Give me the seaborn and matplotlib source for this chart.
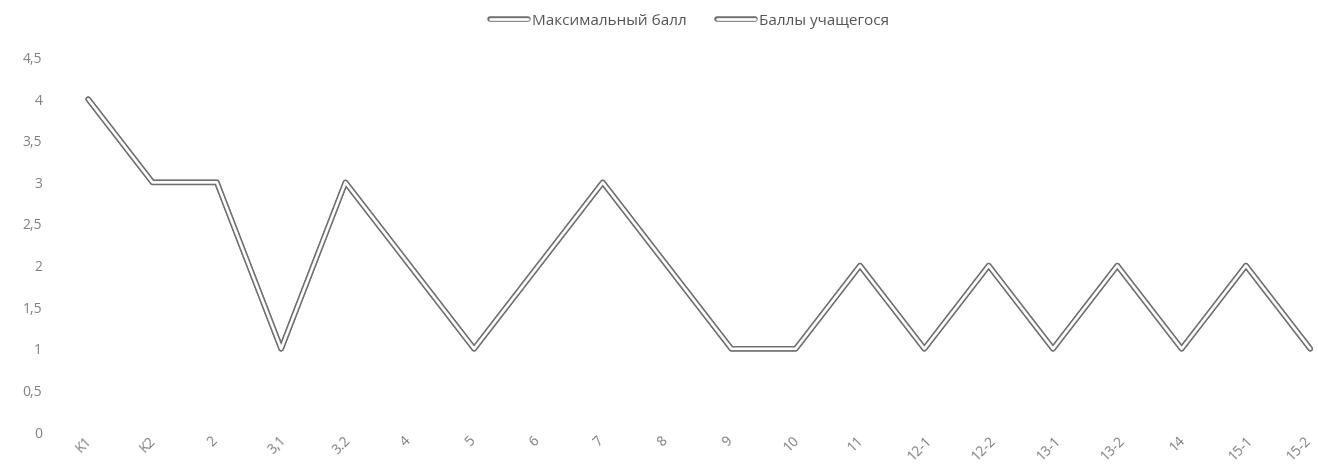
import matplotlib
matplotlib.use("Agg")
import matplotlib.pyplot as plt
import matplotlib.patheffects as pe
import matplotlib.transforms as mtransforms
from matplotlib.ticker import FuncFormatter
import seaborn as sns
import pandas as pd

# data
tasks = ["K1", "K2", "2", "3,1", "3.2", "4", "5", "6", "7", "8",
         "9", "10", "11", "12-1", "12-2", "13-1", "13-2", "14", "15-1", "15-2"]
max_score = [4, 3, 3, 1, 3, 2, 1, 2, 3, 2, 1, 1, 2, 1, 2, 1, 2, 1, 2, 1]
student_score = [4, 3, 3, 1, 3, 2, 1, 2, 3, 2, 1, 1, 2, 1, 2, 1, 2, 1, 2, 1]
series_names = ["Максимальный балл", "Баллы учащегося"]

sns.set_style("white")
plt.rcParams["font.family"] = ["Open Sans", "DejaVu Sans"]

fig = plt.figure(figsize=(13.18, 4.74), dpi=100)
ax = fig.add_axes([0.0425, 0.0886, 0.9575, 0.79])

# double-line look: gray outline with white core
double = [pe.Stroke(linewidth=4.0, foreground="#707070"), pe.Normal()]

df_max = pd.DataFrame({"task": tasks, "score": max_score})
df_stu = pd.DataFrame({"task": tasks, "score": student_score})

sns.lineplot(data=df_max, x="task", y="score", sort=False, ax=ax,
             color="white", linewidth=1.9, label=series_names[0],
             path_effects=double)
sns.lineplot(data=df_stu, x="task", y="score", sort=False, ax=ax,
             color="white", linewidth=1.9, label=series_names[1],
             path_effects=double)

ax.set_xlim(-0.5, 19.12)
ax.set_ylim(0, 4.5)
ax.set_yticks([0, 0.5, 1, 1.5, 2, 2.5, 3, 3.5, 4, 4.5])
ax.yaxis.set_major_formatter(FuncFormatter(lambda v, p: f"{v:g}".replace(".", ",")))
ax.set_xticks(range(len(tasks)))
ax.set_xticklabels(tasks, rotation=45, ha="center")
ax.tick_params(axis="both", length=0, labelsize=10, colors="#808080")
ax.tick_params(axis="y", pad=10)
ax.tick_params(axis="x", pad=1)
xlabels = ax.get_xticklabels()
for i, lbl in enumerate(xlabels):
    dx = -8 if i == len(xlabels) - 1 else -3
    shift = mtransforms.ScaledTranslation(dx / 72, 0, fig.dpi_scale_trans)
    lbl.set_transform(lbl.get_transform() + shift)
ax.set_xlabel("")
ax.set_ylabel("")
sns.despine(ax=ax, left=True, bottom=True)

ax.legend(loc="upper center", bbox_to_anchor=(0.523, 1.0), bbox_transform=fig.transFigure,
          ncol=2, frameon=False, fontsize=11, handlelength=2.5, handletextpad=0.25,
          columnspacing=2.0, labelcolor="#555555")

fig.savefig("out.png", dpi=100)
